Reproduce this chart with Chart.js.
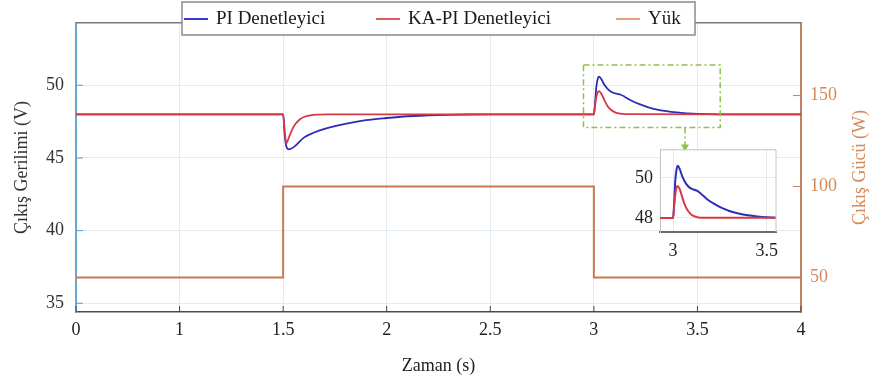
<!DOCTYPE html>
<html>
<head>
<meta charset="utf-8">
<script src="https://cdn.jsdelivr.net/npm/chart.js@4.4.1/dist/chart.umd.min.js"></script>
<style>
  html, body { margin: 0; padding: 0; background: #fff; }
  #wrap { position: relative; width: 875px; height: 383px; }
  #main { position: absolute; left: 0; top: 0; }
  #inset { position: absolute; left: 620px; top: 132px; }
</style>
</head>
<body>
<div id="wrap">
  <canvas id="main" width="875" height="383"></canvas>
  <canvas id="inset" width="170" height="133"></canvas>
</div>
<script>
const FONT = '"Liberation Serif", "Times New Roman", serif';

// axis ticks
const xTickValues = [0.5, 1, 1.5, 2, 2.5, 3, 3.5, 4];
const xTickLabels = ["0", "1", "1.5", "2", "2.5", "3", "3.5", "4"];
const voltTicks = [35, 40, 45, 50];
const powerTicks = [50, 100, 150];
const insetXTicks = [3, 3.5];
const insetYTicks = [48, 50];

// output voltage, PI controller
const piTime = [0.5, 1.5, 1.508, 1.518, 1.528, 1.54, 1.56, 1.6, 1.65, 1.7, 1.8, 1.9, 2.0, 2.1, 2.2, 2.3, 2.4, 2.5,
  3.0, 3.005, 3.012, 3.02, 3.025, 3.035, 3.05, 3.07, 3.09, 3.11, 3.13, 3.15, 3.18, 3.22, 3.26, 3.3, 3.35, 3.4, 3.45, 3.5, 3.6, 4.0];
const piVolt = [48, 48, 46.5, 45.7, 45.6, 45.65, 45.85, 46.4, 46.75, 47.0, 47.35, 47.6, 47.75, 47.87, 47.93, 47.97, 47.99, 48.0,
  48.0, 48.6, 49.9, 50.5, 50.6, 50.45, 50.05, 49.7, 49.5, 49.42, 49.35, 49.2, 48.95, 48.7, 48.5, 48.35, 48.22, 48.13, 48.07, 48.03, 48.0, 48.0];

// output voltage, KA-PI controller
const kaTime = [0.5, 1.5, 1.508, 1.515, 1.525, 1.54, 1.56, 1.58, 1.6, 1.63, 1.67, 1.72,
  3.0, 3.005, 3.012, 3.02, 3.025, 3.035, 3.05, 3.065, 3.08, 3.1, 3.12, 3.15, 4.0];
const kaVolt = [48, 48, 46.8, 46.0, 46.3, 46.85, 47.35, 47.65, 47.82, 47.93, 47.98, 48.0,
  48.0, 48.5, 49.2, 49.55, 49.6, 49.45, 49.0, 48.6, 48.35, 48.15, 48.06, 48.01, 48.0];

// load power
const loadTime = [0.5, 1.5, 1.5, 3.0, 3.0, 4.0];
const loadPower = [50, 50, 100, 100, 50, 50];

// zoomed window and where its arrow ends (data units of the main axes)
const zoomBox = { x0: 2.95, x1: 3.61, y0: 47.1, y1: 51.4 };
const arrowEnd = { x: 3.44, y: 45.45 };

const legendX = [184, 376, 616];

const pts = (ts, vs) => ts.map((t, i) => ({ x: t, y: vs[i] }));

const C_PI = "#2d2db5";
const C_KA = "#d53a45";
const C_LOAD = "#c97850";
const C_GRID = "#e3eaf1";

// red is drawn over blue, as in the plot
function makeDatasets(width) {
  return [
    { label: "PI Denetleyici", data: pts(piTime, piVolt), borderColor: C_PI, borderWidth: width, order: 2,
      yAxisID: "y", cubicInterpolationMode: "monotone", legendColor: "#3a3ad0" },
    { label: "KA-PI Denetleyici", data: pts(kaTime, kaVolt), borderColor: C_KA, borderWidth: width, order: 1,
      yAxisID: "y", cubicInterpolationMode: "monotone", legendColor: "#e05a64" },
    { label: "Yük", data: pts(loadTime, loadPower), borderColor: C_LOAD, borderWidth: 2, order: 3,
      yAxisID: "y1", tension: 0, legendColor: "#e4a07e" },
  ];
}

const framePlugin = {
  id: "frame",
  afterDraw(chart) {
    const { ctx, chartArea: a, scales } = chart;
    ctx.save();
    // top border
    ctx.strokeStyle = "#7a7a7a";
    ctx.lineWidth = 1.5;
    ctx.beginPath();
    ctx.moveTo(a.left, a.top);
    ctx.lineTo(a.right, a.top);
    ctx.stroke();
    // inward tick marks
    ctx.lineWidth = 1;
    ctx.strokeStyle = "#444";
    xTickValues.forEach((v) => {
      const px = scales.x.getPixelForValue(v);
      ctx.beginPath();
      ctx.moveTo(px, a.bottom);
      ctx.lineTo(px, a.bottom - 6);
      ctx.stroke();
    });
    ctx.strokeStyle = "#5b9bd0";
    voltTicks.forEach((v) => {
      const py = scales.y.getPixelForValue(v);
      ctx.beginPath();
      ctx.moveTo(a.left, py);
      ctx.lineTo(a.left + 7, py);
      ctx.stroke();
    });
    ctx.strokeStyle = "#c08062";
    powerTicks.forEach((v) => {
      const py = scales.y1.getPixelForValue(v);
      ctx.beginPath();
      ctx.moveTo(a.right, py);
      ctx.lineTo(a.right - 8, py);
      ctx.stroke();
    });

    // zoom window
    const bx0 = scales.x.getPixelForValue(zoomBox.x0);
    const bx1 = scales.x.getPixelForValue(zoomBox.x1);
    const by0 = scales.y.getPixelForValue(zoomBox.y1);
    const by1 = scales.y.getPixelForValue(zoomBox.y0);
    ctx.strokeStyle = "#8fc04a";
    ctx.lineWidth = 1.5;
    ctx.setLineDash([6, 3, 2, 3]);
    ctx.strokeRect(bx0, by0, bx1 - bx0, by1 - by0);
    const ax = scales.x.getPixelForValue(arrowEnd.x);
    const ay = scales.y.getPixelForValue(arrowEnd.y);
    ctx.beginPath();
    ctx.moveTo(ax, by1);
    ctx.lineTo(ax, ay - 5);
    ctx.stroke();
    ctx.setLineDash([]);
    ctx.fillStyle = "#8fc04a";
    ctx.beginPath();
    ctx.moveTo(ax - 4, ay - 7);
    ctx.lineTo(ax + 4, ay - 7);
    ctx.lineTo(ax, ay);
    ctx.closePath();
    ctx.fill();

    // right axis title, reading bottom to top
    ctx.fillStyle = "#d48a58";
    ctx.font = "18px " + FONT;
    ctx.textAlign = "center";
    ctx.textBaseline = "middle";
    ctx.translate(860, (a.top + a.bottom) / 2);
    ctx.rotate(-Math.PI / 2);
    ctx.fillText("Çıkış Gücü (W)", 0, 0);
    ctx.restore();

    // legend
    ctx.save();
    ctx.fillStyle = "#fff";
    ctx.fillRect(182, 2, 513, 33);
    ctx.strokeStyle = "#8a8a8a";
    ctx.lineWidth = 1.5;
    ctx.strokeRect(182, 2, 513, 33);
    ctx.font = "19px " + FONT;
    ctx.textBaseline = "middle";
    ctx.textAlign = "left";
    chart.data.datasets.forEach((ds, i) => {
      const x = legendX[i];
      ctx.strokeStyle = ds.legendColor;
      ctx.lineWidth = 2;
      ctx.beginPath();
      ctx.moveTo(x, 19);
      ctx.lineTo(x + 24, 19);
      ctx.stroke();
      ctx.fillStyle = "#1a1a1a";
      ctx.fillText(ds.label, x + 32, 19);
    });
    ctx.restore();
  },
};

new Chart(document.getElementById("main"), {
  type: "line",
  data: { datasets: makeDatasets(1.8) },
  options: {
    responsive: false,
    animation: false,
    devicePixelRatio: 1,
    layout: { padding: { top: 20, left: 0, right: 0, bottom: 0 } },
    elements: { point: { radius: 0 } },
    plugins: { legend: { display: false }, tooltip: { enabled: false } },
    scales: {
      x: {
        type: "linear",
        min: 0.5,
        max: 4,
        afterBuildTicks: (s) => { s.ticks = xTickValues.map((v) => ({ value: v })); },
        afterFit: (s) => { s.height = 71; },
        ticks: {
          padding: 7,
          color: "#222",
          font: { family: FONT, size: 18 },
          callback: (v) => xTickLabels[xTickValues.indexOf(v)],
        },
        grid: { color: C_GRID, drawTicks: false },
        border: { color: "#4a4a4a", width: 1.5 },
        title: { display: true, text: "Zaman (s)", color: "#222",
          font: { family: FONT, size: 18 }, padding: { top: 0, bottom: 6 } },
      },
      y: {
        position: "left",
        min: 34.4,
        max: 54.3,
        afterBuildTicks: (s) => { s.ticks = voltTicks.map((v) => ({ value: v })); },
        afterFit: (s) => { s.width = 76; },
        ticks: { padding: 12, color: "#333", font: { family: FONT, size: 18 } },
        grid: { color: C_GRID, drawTicks: false },
        border: { color: "#6aa6d4", width: 2 },
        title: { display: true, text: "Çıkış Gerilimi (V)", color: "#333",
          font: { family: FONT, size: 18 }, padding: { top: 11, bottom: 0 } },
      },
      y1: {
        position: "right",
        min: 31,
        max: 190,
        afterBuildTicks: (s) => { s.ticks = powerTicks.map((v) => ({ value: v })); },
        afterFit: (s) => { s.width = 74; },
        ticks: { padding: 9, color: "#d48a58", font: { family: FONT, size: 18 } },
        grid: { display: false, drawTicks: false },
        border: { color: "#c08062", width: 2 },
      },
    },
  },
  plugins: [framePlugin],
});

// inset around the load drop at 3 s
const insetPlugin = {
  id: "insetFrame",
  beforeDraw(chart) {
    const { ctx, chartArea: a } = chart;
    ctx.save();
    ctx.fillStyle = "#fff";
    ctx.fillRect(a.left, a.top, a.right - a.left, a.bottom - a.top);
    ctx.restore();
  },
  afterDraw(chart) {
    const { ctx, chartArea: a } = chart;
    ctx.save();
    ctx.strokeStyle = "#c4c4c4";
    ctx.lineWidth = 1;
    ctx.beginPath();
    ctx.moveTo(a.left, a.top);
    ctx.lineTo(a.right, a.top);
    ctx.lineTo(a.right, a.bottom);
    ctx.stroke();
    ctx.restore();
  },
};

new Chart(document.getElementById("inset"), {
  type: "line",
  data: { datasets: makeDatasets(2).slice(0, 2) },
  options: {
    responsive: false,
    animation: false,
    devicePixelRatio: 1,
    layout: { padding: { top: 2, right: 14, left: 0, bottom: 0 } },
    elements: { point: { radius: 0 } },
    plugins: { legend: { display: false }, tooltip: { enabled: false } },
    scales: {
      x: {
        type: "linear",
        min: 2.93,
        max: 3.55,
        afterBuildTicks: (s) => { s.ticks = insetXTicks.map((v) => ({ value: v })); },
        afterFit: (s) => { s.height = 33; },
        ticks: { padding: 8, color: "#222", font: { family: FONT, size: 18 },
          callback: (v) => String(v) },
        grid: { color: C_GRID, drawTicks: false },
        border: { color: "#6a6a6a", width: 2 },
      },
      y: {
        min: 47.3,
        max: 51.4,
        afterBuildTicks: (s) => { s.ticks = insetYTicks.map((v) => ({ value: v })); },
        afterFit: (s) => { s.width = 40; },
        ticks: { padding: 7, color: "#222", font: { family: FONT, size: 18 } },
        grid: { color: C_GRID, drawTicks: false },
        border: { color: "#c4c4c4", width: 1 },
      },
    },
  },
  plugins: [insetPlugin],
});
</script>
</body>
</html>
